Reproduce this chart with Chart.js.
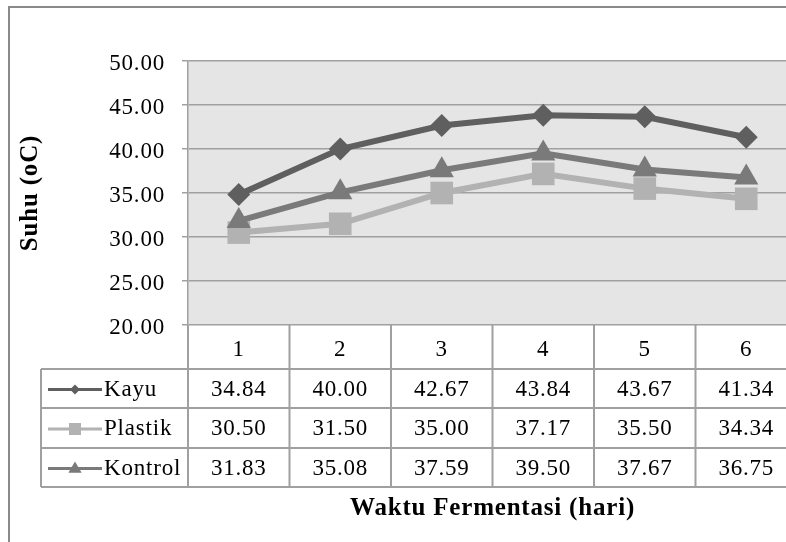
<!DOCTYPE html>
<html>
<head>
<meta charset="utf-8">
<script src="https://cdn.jsdelivr.net/npm/chart.js@4.4.0/dist/chart.umd.min.js"></script>
<style>
  html, body { margin: 0; padding: 0; background: #fff; overflow: hidden; }
</style>
</head>
<body>
<canvas id="chart" width="800" height="542"></canvas>
<script>
var days = ["1", "2", "3", "4", "5", "6"];
var kayu = [34.84, 40.00, 42.67, 43.84, 43.67, 41.34];
var plastik = [30.50, 31.50, 35.00, 37.17, 35.50, 34.34];
var kontrol = [31.83, 35.08, 37.59, 39.50, 37.67, 36.75];
var yTicks = [20, 25, 30, 35, 40, 45, 50];

var serif = "'Liberation Serif', 'Times New Roman', serif";
var lineGray = "#a0a0a0";

// row edges of the data table under the plot (header row, then one row per series)
var rowEdges = [325, 369, 408, 448, 487];
var tableLeft = 41;

function drawMarker(ctx, style, x, y, r, color) {
  ctx.fillStyle = color;
  ctx.beginPath();
  if (style === "rectRot") {
    ctx.moveTo(x, y - r);
    ctx.lineTo(x + r, y);
    ctx.lineTo(x, y + r);
    ctx.lineTo(x - r, y);
  } else if (style === "rect") {
    ctx.rect(x - r, y - r, 2 * r, 2 * r);
  } else {
    ctx.moveTo(x, y - r);
    ctx.lineTo(x + r * 0.95, y + r * 0.6);
    ctx.lineTo(x - r * 0.95, y + r * 0.6);
  }
  ctx.closePath();
  ctx.fill();
}

// the reference text is set a little loose
var spacing = {
  id: "spacing",
  beforeUpdate: function (chart) { chart.ctx.letterSpacing = "0.8px"; },
  beforeDraw: function (chart) { chart.ctx.letterSpacing = "0.8px"; }
};

var backdrop = {
  id: "backdrop",
  beforeDraw: function (chart) {
    var ctx = chart.ctx, a = chart.chartArea;
    ctx.save();
    ctx.fillStyle = "#fff";
    ctx.fillRect(0, 0, chart.width, chart.height);
    ctx.strokeStyle = "#8a8a8a";
    ctx.lineWidth = 2;
    ctx.strokeRect(9, 7, chart.width + 50, chart.height + 50);
    ctx.fillStyle = "#e5e5e5";
    ctx.fillRect(a.left, a.top, a.right - a.left, a.bottom - a.top);
    ctx.restore();
  }
};

var dataTable = {
  id: "dataTable",
  afterDraw: function (chart) {
    var ctx = chart.ctx, a = chart.chartArea, xs = chart.scales.x;
    var n = chart.data.labels.length;
    var colW = (a.right - a.left) / n;
    var last = rowEdges.length - 1;
    ctx.save();
    ctx.strokeStyle = lineGray;
    ctx.lineWidth = 2;
    ctx.beginPath();
    for (var i = 0; i <= n; i++) {
      var x = a.left + i * colW;
      ctx.moveTo(x, rowEdges[0]);
      ctx.lineTo(x, rowEdges[last]);
    }
    ctx.moveTo(tableLeft, rowEdges[1]);
    ctx.lineTo(tableLeft, rowEdges[last]);
    for (var r = 1; r <= last; r++) {
      ctx.moveTo(tableLeft, rowEdges[r]);
      ctx.lineTo(a.right, rowEdges[r]);
    }
    ctx.stroke();

    ctx.font = "23px " + serif;
    ctx.textBaseline = "middle";
    chart.data.datasets.forEach(function (ds, k) {
      var cy = (rowEdges[k + 1] + rowEdges[k + 2]) / 2 + 1;
      // legend key
      ctx.strokeStyle = ds.borderColor;
      ctx.lineWidth = 3;
      ctx.beginPath();
      ctx.moveTo(48, cy);
      ctx.lineTo(102, cy);
      ctx.stroke();
      drawMarker(ctx, ds.pointStyle, 75, cy, ds.keySize, ds.borderColor);
      ctx.fillStyle = "#000";
      ctx.textAlign = "left";
      ctx.fillText(ds.label, 104, cy);
      ctx.textAlign = "center";
      ds.data.forEach(function (v, i) {
        ctx.fillText(v.toFixed(2), xs.getPixelForValue(i), cy);
      });
    });
    ctx.restore();
  }
};

new Chart(document.getElementById("chart"), {
  type: "line",
  data: {
    labels: days,
    datasets: [
      {
        label: "Kayu", data: kayu, order: 2,
        borderColor: "#5f5f5f", backgroundColor: "#5f5f5f", borderWidth: 6,
        pointStyle: "rectRot", pointRadius: 11.5, pointBorderWidth: 0, keySize: 5
      },
      {
        label: "Plastik", data: plastik, order: 1,
        borderColor: "#b2b2b2", backgroundColor: "#b2b2b2", borderWidth: 6,
        pointStyle: "rect", pointRadius: 16, pointBorderWidth: 0, keySize: 6
      },
      {
        label: "Kontrol", data: kontrol, order: 0,
        borderColor: "#7a7a7a", backgroundColor: "#7a7a7a", borderWidth: 6,
        pointStyle: "triangle", pointRadius: 14, pointBorderWidth: 0, keySize: 7
      }
    ]
  },
  options: {
    responsive: false,
    animation: false,
    layout: { autoPadding: false, padding: { left: 16, top: 61, right: 3, bottom: 0 } },
    plugins: { legend: { display: false }, tooltip: { enabled: false } },
    scales: {
      x: {
        offset: true,
        grid: { display: false, drawTicks: false },
        border: { display: false },
        ticks: { font: { family: serif, size: 23 }, color: "#000", padding: 11 },
        title: {
          display: true, text: "Waktu Fermentasi (hari)", color: "#000",
          font: { family: serif, size: 25, weight: "bold" },
          padding: { top: 0, bottom: 18 }
        },
        afterFit: function (s) { s.height = 217; }
      },
      y: {
        min: 20, max: 50,
        afterBuildTicks: function (s) {
          s.ticks = yTicks.map(function (v) { return { value: v }; });
        },
        grid: { color: lineGray, lineWidth: 1.5, tickLength: 6 },
        border: { display: true, color: lineGray, width: 1.5 },
        ticks: {
          font: { family: serif, size: 23 }, color: "#000", padding: 17, labelOffset: 3,
          callback: function (v) { return Number(v).toFixed(2); }
        },
        title: {
          display: true, text: "Suhu (oC)", color: "#000",
          font: { family: serif, size: 25, weight: "bold" },
          padding: { top: 0, bottom: 0 }
        },
        afterFit: function (s) { s.width = 172; }
      }
    }
  },
  plugins: [spacing, backdrop, dataTable]
});
</script>
</body>
</html>
